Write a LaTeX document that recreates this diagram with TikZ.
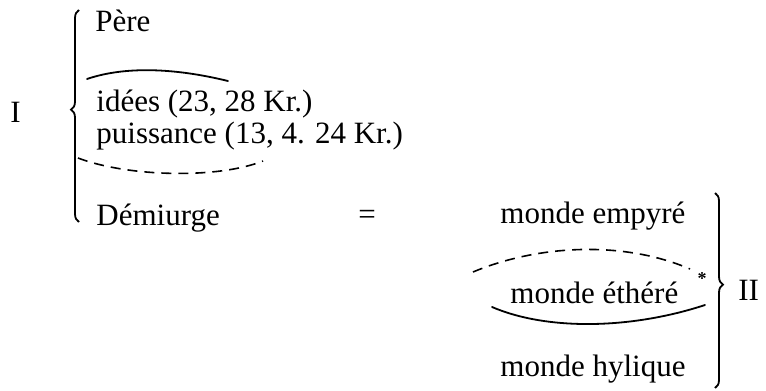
\documentclass[tikz,border=0pt]{standalone}
\usepackage{fontspec}
\setmainfont{Liberation Serif}
\usepackage{tikz}
\usetikzlibrary{decorations.pathreplacing}

\begin{document}
\begin{tikzpicture}[x=0.5pt,y=-0.5pt,
  txt/.style={anchor=base west,inner sep=0pt,font=\fontsize{15.5}{18}\selectfont},
  brc/.style={decorate,decoration={brace,amplitude=4pt,aspect=#1},line width=0.9pt},
  arc/.style={line width=0.9pt,line cap=round},
  darc/.style={line width=0.8pt,dash pattern=on 5pt off 3.5pt}]
  \useasboundingbox (0,0) rectangle (766,391);
  % colonne de gauche
  \node[txt] (pere) at (95,32) {Père};
  \node[txt] (idees) at (96,111) {idées (23, 28 Kr.)};
  \node[txt] (puis) at (96,143) {puissance (13, 4. 24 Kr.)};
  \node[txt] (demi) at (96,225) {Démiurge};
  \node[txt] (one) at (10,122) {I};
  \node[txt] (egal) at (358,224) {=};
  % colonne de droite
  \node[txt] (empyre) at (500,223) {monde empyré};
  \node[txt] (ethere) at (510,303) {monde éthéré};
  \node[txt] (hylique) at (500,376) {monde hylique};
  \node[txt] (two) at (738,300) {II};
  \node[inner sep=0pt,font=\bfseries\small] (star) at (702,279) {*};
  % accolades
  \draw[brc=0.53] (79,222) -- (79,10);
  \draw[brc=0.47] (715,193) -- (715,388);
  % arcs
  \draw[arc] (87,79) .. controls (125,66) and (175,68) .. (228,81);
  \draw[darc] (78,158) .. controls (128,177) and (218,179) .. (263,161);
  \draw[darc] (473,272) .. controls (540,244) and (625,241) .. (690,269);
  \draw[arc] (492,307) .. controls (548,331) and (632,329) .. (705,305);
\end{tikzpicture}
\end{document}
